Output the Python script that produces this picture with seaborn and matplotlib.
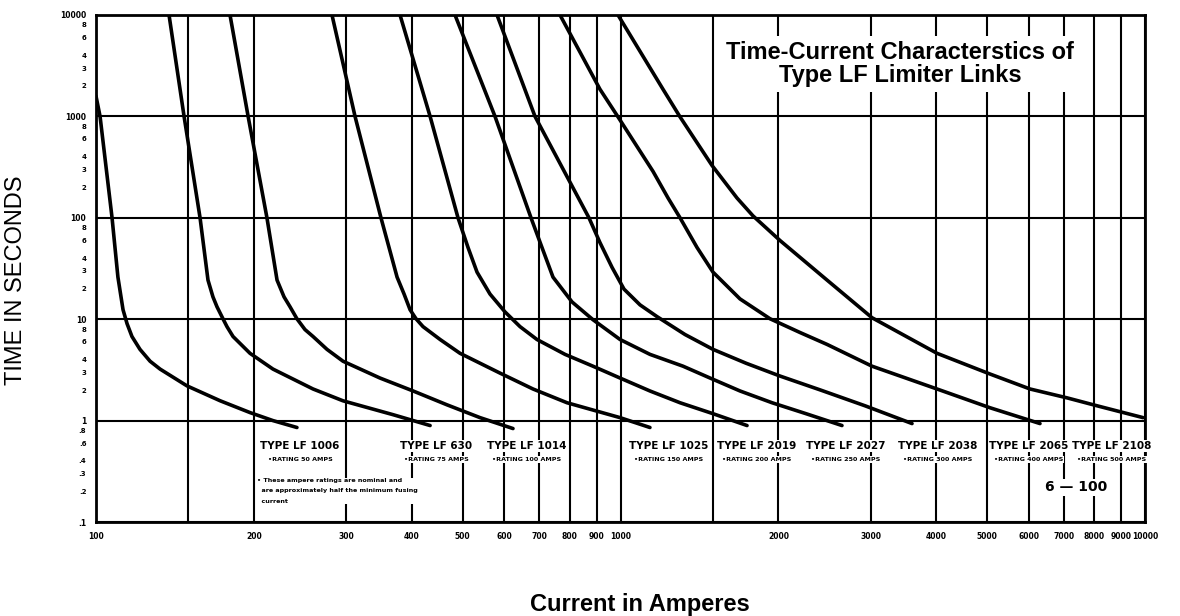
import pandas as pd
import matplotlib
matplotlib.use("Agg")
import matplotlib.pyplot as plt
import seaborn as sns
from matplotlib.ticker import FixedLocator, FixedFormatter

# Datos (corriente en amperes, tiempo en segundos)

link_types = ["LF 1006", "LF 630", "LF 1014", "LF 1025", "LF 2019",
              "LF 2027", "LF 2038", "LF 2065", "LF 2108"]
ratings = ["50", "75", "100", "150", "200", "250", "300", "400", "500"]

amps_1006 = [100, 101.8, 107.3, 110.1, 112.6, 114.6, 117.1, 121.3, 126.8, 132.5,
             149.1, 172.4, 196.6, 217.5, 241.6]
secs_1006 = [1585, 1000, 100, 26, 12.4, 9.04, 6.75, 5.04, 3.85, 3.22,
             2.2, 1.57, 1.2, 1.0, 0.855]

amps_630 = [137.8, 147.2, 157.9, 163.5, 167.1, 170.1, 174.6, 177.7, 182.5, 196.6,
            217.5, 259.3, 295.8, 368.4, 433.5]
secs_630 = [10000, 1000, 100, 24.3, 16.6, 13.25, 10.1, 8.45, 6.75, 4.61,
            3.22, 2.05, 1.567, 1.144, 0.894]

amps_1014 = [180.1, 195.0, 211.8, 221.4, 228.3, 234.4, 241.6, 250.3, 259.3, 275.7,
             295.8, 347.8, 402.3, 467.0, 539.7, 623.8]
secs_1014 = [10000, 1000, 100, 24.3, 16.6, 13.25, 10.1, 7.9, 6.75, 5.04,
             3.85, 2.63, 1.96, 1.43, 1.07, 0.835]

amps_1025 = [281.8, 311.8, 349.4, 375.0, 386.7, 397.0, 407.5, 420.2, 452.9, 494.3,
             589.2, 681.0, 790.7, 997.8, 1138]
secs_1025 = [10000, 1000, 100, 26, 17.7, 12.4, 10.1, 8.45, 6.31, 4.61,
             2.94, 2.05, 1.50, 1.07, 0.855]

amps_2019 = [379.9, 433.5, 490.0, 512.0, 532.7, 563.9, 602.3, 643.3, 692.9, 783.8,
             886.1, 997.8, 1138, 1298.7, 1501, 1742.8]
secs_2019 = [10000, 1000, 100, 51.0, 29.1, 17.7, 11.8, 8.45, 6.31, 4.50,
             3.44, 2.63, 1.96, 1.50, 1.17, 0.894]

amps_2027 = [483.6, 576.4, 675.1, 708.4, 743.5, 808.3, 886.1, 997.8, 1138, 1315.9,
             1481.4, 1689.9, 1945.1, 2258, 2644]
secs_2027 = [10000, 1000, 100, 51.0, 26.0, 14.8, 9.89, 6.31, 4.50, 3.44,
             2.63, 1.96, 1.50, 1.17, 0.894]

amps_2038 = [581.5, 687.0, 870.7, 913.7, 963.4, 1015.5, 1089.4, 1174, 1327.5, 1501,
             1735.2, 2014.3, 2401, 2925.5, 3596]
secs_2038 = [10000, 1000, 100, 57.0, 32.5, 19.8, 13.85, 10.6, 7.06, 5.04,
             3.68, 2.75, 2.01, 1.40, 0.935]

amps_2065 = [766.8, 913.7, 989.1, 1153.4, 1232.2, 1298.7, 1399.2, 1501, 1689.9, 1927.9,
             2199.3, 2476.4, 3016.8, 4012.5, 5063.8, 6306.8]
secs_2065 = [10000, 1854, 989, 287, 156.7, 100, 51.0, 29.1, 15.85, 10.1,
             7.39, 5.64, 3.44, 2.05, 1.339, 0.935]

amps_2108 = [989.1, 1205, 1298.7, 1494.4, 1667.8, 1788.6, 2014.3, 2476.4, 3016.8, 4012.5,
             5063.8, 6036, 7102, 8102, 9913]
secs_2108 = [10000, 1854, 989, 328.4, 156.7, 104.6, 59.7, 24.3, 10.34, 4.61,
             2.88, 2.05, 1.676, 1.40, 1.07]

all_amps = [amps_1006, amps_630, amps_1014, amps_1025, amps_2019,
            amps_2027, amps_2038, amps_2065, amps_2108]
all_secs = [secs_1006, secs_630, secs_1014, secs_1025, secs_2019,
            secs_2027, secs_2038, secs_2065, secs_2108]

x_ticks = [100, 200, 300, 400, 500, 600, 700, 800, 900, 1000,
           2000, 3000, 4000, 5000, 6000, 7000, 8000, 9000, 10000]

# Tabla larga para seaborn
frames = []
for name, a, s in zip(link_types, all_amps, all_secs):
    frames.append(pd.DataFrame({"amps": a, "seconds": s, "link": name}))
data = pd.concat(frames, ignore_index=True)

# Estilo
sns.set_style("white")
plt.rcParams["font.family"] = ["Liberation Sans", "DejaVu Sans"]
plt.rcParams["text.color"] = "black"
plt.rcParams["xtick.color"] = "black"
plt.rcParams["ytick.color"] = "black"
plt.rcParams["axes.labelcolor"] = "black"

fig = plt.figure(figsize=(11.8, 6.16), dpi=100)
ax = fig.add_axes([96 / 1180, 1 - 522 / 616, 1049 / 1180, 507 / 616])
ax.set_xscale("log")
ax.set_yscale("log")

sns.lineplot(data=data, x="amps", y="seconds", units="link", estimator=None,
             sort=False, color="black", linewidth=2.6, ax=ax, legend=False)

ax.set_xlim(100, 10000)
ax.set_ylim(0.1, 10000)

# Eje x: lineas verticales y marcas
grid_x = sorted(x_ticks + [150, 1500])
ax.xaxis.set_major_locator(FixedLocator(grid_x))
ax.xaxis.set_major_formatter(FixedFormatter(
    ["" if v in (150, 1500) else str(v) for v in grid_x]))
minor_x = [v for v in list(range(110, 1000, 10)) + list(range(1100, 10000, 100))
           if v not in grid_x]
ax.xaxis.set_minor_locator(FixedLocator(minor_x))
ax.xaxis.set_minor_formatter(FixedFormatter([""] * len(minor_x)))

# Eje y: decadas y subdivisiones
decades = [0.1, 1, 10, 100, 1000, 10000]
ax.yaxis.set_major_locator(FixedLocator(decades))
ax.yaxis.set_major_formatter(FixedFormatter([".1", "1", "10", "100", "1000", "10000"]))
minor_y, minor_y_lab = [], []
for d in decades[:-1]:
    for m in [1.5, 2, 2.5, 3, 3.5, 4, 5, 6, 7, 8, 9]:
        minor_y.append(m * d)
        lab = ""
        if m in (2, 3, 4, 6, 8):
            lab = ("." + str(m)) if d == 0.1 else str(m)
        minor_y_lab.append(lab)
ax.yaxis.set_minor_locator(FixedLocator(minor_y))
ax.yaxis.set_minor_formatter(FixedFormatter(minor_y_lab))

ax.grid(True, which="major", color="black", linewidth=1.5)
ax.tick_params(axis="both", which="major", direction="in", length=0,
               labelsize=5.5, pad=7, colors="black")
ax.tick_params(axis="x", which="minor", direction="in", length=7, width=1.3,
               colors="black")
ax.tick_params(axis="y", which="minor", direction="in", length=8, width=1.3,
               labelsize=5, pad=7, colors="black")
for lab in ax.get_xticklabels() + ax.get_yticklabels(minor=True) + ax.get_yticklabels():
    lab.set_fontweight("bold")
    lab.set_family("DejaVu Sans")
for sp in ax.spines.values():
    sp.set_linewidth(2)
    sp.set_color("black")
ax.set_xlabel("")
ax.set_ylabel("")

# Etiquetas de cada fusible
label_x = [245, 445, 663, 1237, 1821, 2691, 4031, 6009, 8650]
for name, r, lx in zip(link_types, ratings, label_x):
    ax.text(lx, 0.56, "TYPE " + name, ha="center", va="center", fontsize=7.5,
            fontweight="bold", family="DejaVu Sans", color="black",
            bbox=dict(facecolor="white", edgecolor="none", pad=0.5))
    ax.text(lx, 0.415, "\u2022RATING " + r + " AMPS", ha="center", va="center",
            fontsize=4.6, fontweight="bold", family="DejaVu Sans", color="black",
            bbox=dict(facecolor="white", edgecolor="none", pad=0.5))

ax.text(203, 0.27, "\u2022 These ampere ratings are nominal and\n"
        "  are approximately half the minimum fusing\n  current",
        ha="left", va="top", fontsize=4.6, fontweight="bold",
        family="DejaVu Sans", linespacing=2.3, color="black",
        bbox=dict(facecolor="white", edgecolor="none", pad=0.5))
ax.text(7400, 0.22, "6 \u2014 100", ha="center", va="center", fontsize=10,
        fontweight="bold", family="DejaVu Sans", color="black",
        bbox=dict(facecolor="white", edgecolor="none", pad=1))

# Titulo y textos de los ejes
fig.text(900 / 1180, 1 - 64 / 616,
         "Time-Current Characterstics of\nType LF Limiter Links",
         ha="center", va="center", fontsize=17, fontweight="bold",
         linespacing=1.05, color="black",
         bbox=dict(facecolor="white", edgecolor="none", pad=3))
fig.text(16 / 1180, 1 - 280 / 616, "TIME IN SECONDS", rotation=90,
         ha="center", va="center", fontsize=17, color="black")
fig.text(640 / 1180, 1 - 605 / 616, "Current in Amperes", ha="center",
         va="center", fontsize=17, fontweight="bold", color="black")

plt.savefig("out.png", dpi=100)
